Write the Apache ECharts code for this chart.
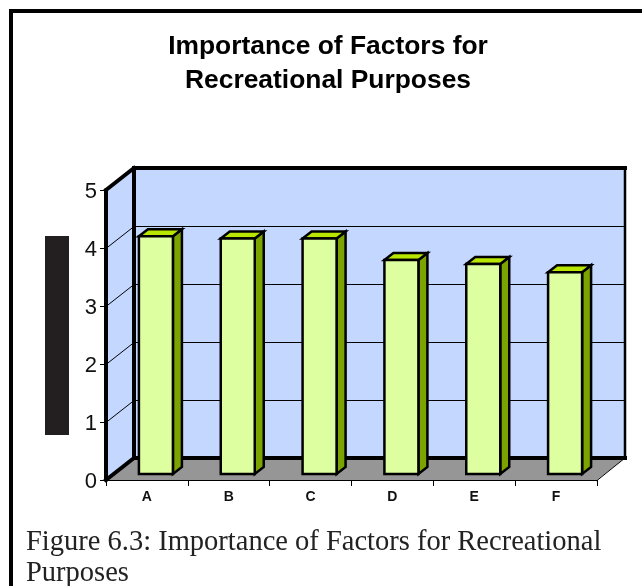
<!DOCTYPE html>
<html>
<head>
<meta charset="utf-8">
<style>html,body{margin:0;padding:0;background:#fff}#chart{width:642px;height:586px}</style>
<script src="https://cdn.jsdelivr.net/npm/echarts@6/dist/echarts.min.js"></script>
</head>
<body>
<div id="chart"></div>
<script>
// Recreational factor ratings, one per lettered factor
var categories = ['A', 'B', 'C', 'D', 'E', 'F'];
var scores = [4.1, 4.06, 4.06, 3.69, 3.62, 3.48];
var yTicks = [0, 1, 2, 3, 4, 5];
var titleLines = ['Importance of Factors for', 'Recreational Purposes'];
var captionLines = ['Figure 6.3: Importance of Factors for Recreational', 'Purposes'];

// Oblique projection of the box: back wall offset, and the bar's own placement inside it
var WALL_DX = 28, WALL_DY = -22;
var BAR_DX = 9, BAR_DY = -6;
var BAR_DEPTH_X = 9, BAR_DEPTH_Y = -7;
var BAR_HALF = 17;

function poly(points, fill, stroke, width) {
  return { type: 'polygon', shape: { points: points },
    style: { fill: fill, stroke: stroke || null, lineWidth: width || 0, lineJoin: 'miter' } };
}
function seg(x1, y1, x2, y2, width) {
  return { type: 'line', shape: { x1: x1, y1: y1, x2: x2, y2: y2 },
    style: { stroke: '#000', lineWidth: width, lineCap: 'square' } };
}

// Side wall, back wall and floor
function renderRoom(params, api) {
  var c = params.coordSys;
  var l = c.x, r = c.x + c.width, t = c.y, b = c.y + c.height;
  var dx = WALL_DX, dy = WALL_DY;
  return { type: 'group', children: [
    poly([[l + dx, t + dy], [r + dx, t + dy], [r + dx, b + dy], [l + dx, b + dy]], '#c4d7ff'),
    poly([[l, t], [l + dx, t + dy], [l + dx, b + dy], [l, b]], '#c4d7ff'),
    poly([[l, b], [l + dx, b + dy], [r + dx, b + dy], [r, b]], '#969696')
  ] };
}
// Heavy edges of the box
function renderFrame(params, api) {
  var c = params.coordSys;
  var l = c.x, r = c.x + c.width, t = c.y, b = c.y + c.height;
  var dx = WALL_DX, dy = WALL_DY;
  return { type: 'group', children: [
    seg(l + dx, t + dy, r + dx, t + dy, 4),
    seg(r + dx, t + dy, r + dx, b + dy, 2.5),
    seg(l + dx, t + dy, l + dx, b + dy, 4),
    seg(l + dx, b + dy, r + dx, b + dy, 4),
    seg(l, t, l + dx, t + dy, 4),
    seg(l, b, l + dx, b + dy, 4),
    seg(l, b + 0.5, r, b + 0.5, 1),
    seg(r, b + 0.5, r + dx, b + dy, 1)
  ] };
}
// One rule per tick, running across the side wall and the back wall
function renderRule(params, api) {
  var c = params.coordSys;
  var y = Math.round(api.coord([0, api.value(0)])[1]) + 0.5;
  var l = c.x, r = c.x + c.width;
  return { type: 'group', children: [
    seg(l, y, l + WALL_DX, y + WALL_DY, 1),
    seg(l + WALL_DX, y + WALL_DY, r + WALL_DX, y + WALL_DY, 1)
  ] };
}
// A prism standing on the floor: front face, top and right side
function renderBar(params, api) {
  var top = api.coord([api.value(0), api.value(1)]);
  var base = api.coord([api.value(0), 0]);
  var x0 = top[0] + BAR_DX - BAR_HALF, x1 = top[0] + BAR_DX + BAR_HALF;
  var y0 = top[1] + BAR_DY, y1 = base[1] + BAR_DY;
  var ex = BAR_DEPTH_X, ey = BAR_DEPTH_Y;
  return { type: 'group', children: [
    poly([[x1, y0], [x1 + ex, y0 + ey], [x1 + ex, y1 + ey], [x1, y1]], '#7ba400', '#000', 2.5),
    poly([[x0, y0], [x0 + ex, y0 + ey], [x1 + ex, y0 + ey], [x1, y0]], '#b8e600', '#000', 2.5),
    poly([[x0, y0], [x1, y0], [x1, y1], [x0, y1]], '#deff9f', '#000', 2.5)
  ] };
}

var chart = echarts.init(document.getElementById('chart'), null, { renderer: 'canvas' });
chart.setOption({
  animation: false,
  backgroundColor: '#fff',
  title: {
    text: titleLines.join('\n'),
    left: 323, top: 25, textAlign: 'center',
    textStyle: { fontFamily: 'Liberation Sans', fontSize: 26.4, fontWeight: 'bold', color: '#000', lineHeight: 34 }
  },
  grid: { left: 106, top: 190, width: 491, height: 290 },
  xAxis: {
    type: 'category', data: categories, z: 5,
    axisLine: { show: false },
    axisTick: { show: true, length: 6, alignWithLabel: false, lineStyle: { color: '#000', width: 1 } },
    axisLabel: { fontFamily: 'Liberation Sans', fontSize: 14, fontWeight: 'bold', color: '#111', margin: 10 },
    splitLine: { show: false }
  },
  yAxis: {
    type: 'value', min: 0, max: 5, interval: 1, z: 5,
    axisLine: { show: true, lineStyle: { color: '#000', width: 4 } },
    axisTick: { show: true, length: 6, lineStyle: { color: '#000', width: 1 } },
    axisLabel: {
      margin: 9,
      formatter: '{n|{value}}',
      rich: { n: { fontFamily: 'Liberation Sans', fontSize: 22, color: '#111', padding: [4, 0, 0, 0] } }
    },
    splitLine: { show: false }
  },
  series: [
    { type: 'custom', z: 1, silent: true, renderItem: renderRoom, data: [0] },
    { type: 'custom', z: 2, silent: true, renderItem: renderRule, data: yTicks.slice(1, 5).map(function (v) { return [v]; }), encode: { y: 0 } },
    { type: 'custom', z: 3, silent: true, renderItem: renderFrame, data: [0] },
    {
      type: 'custom', z: 4, silent: true, renderItem: renderBar,
      encode: { x: 0, y: 1 },
      data: scores.map(function (v, i) { return [i, v]; })
    }
  ],
  graphic: [
    { type: 'rect', z: 10, shape: { x: 9, y: 9, width: 633, height: 4 }, style: { fill: '#000' } },
    { type: 'rect', z: 10, shape: { x: 9, y: 9, width: 4, height: 577 }, style: { fill: '#000' } },
    { type: 'rect', z: 10, shape: { x: 45, y: 236, width: 24, height: 199 }, style: { fill: '#231f20' } },
    { type: 'text', z: 10, x: 26, y: 543, style: { text: captionLines[0], font: '28.5px "Liberation Serif"', fill: '#222', verticalAlign: 'middle' } },
    { type: 'text', z: 10, x: 26, y: 574, style: { text: captionLines[1], font: '28.5px "Liberation Serif"', fill: '#222', verticalAlign: 'middle' } }
  ]
});
</script>
</body>
</html>
